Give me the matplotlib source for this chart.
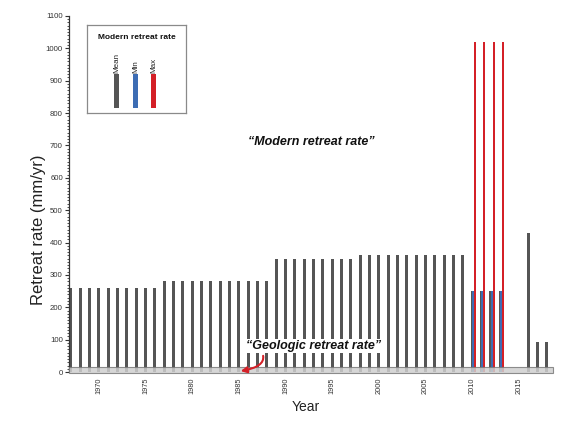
"""Retreat rate per year: modern (mean/min/max) against the geologic rate band."""

import matplotlib

matplotlib.use("Agg")
import matplotlib.pyplot as plt
from matplotlib.ticker import MultipleLocator
import numpy as np

plt.rcParams["font.family"] = ["Liberation Sans", "DejaVu Sans"]

# mean retreat rate per year (mm/yr)
YEARS = [
    1967, 1968, 1969, 1970, 1971, 1972, 1973, 1974, 1975, 1976,
    1977, 1978, 1979, 1980, 1981, 1982, 1983, 1984, 1985, 1986, 1987, 1988,
    1989, 1990, 1991, 1992, 1993, 1994, 1995, 1996, 1997,
    1998, 1999, 2000, 2001, 2002, 2003, 2004, 2005, 2006, 2007, 2008, 2009,
    2010, 2011, 2012, 2013,
    2016, 2017, 2018,
]
MEAN_RATE = [
    260, 260, 260, 260, 260, 260, 260, 260, 260, 260,
    280, 280, 280, 280, 280, 280, 280, 280, 280, 280, 280, 280,
    350, 350, 350, 350, 350, 350, 350, 350, 350,
    360, 360, 360, 360, 360, 360, 360, 360, 360, 360, 360, 360,
    250, 250, 250, 250,
    430, 93, 93,
]

# years with a min / max range
RANGE_YEARS = [2010, 2011, 2012, 2013]
MIN_RATE = [250, 250, 250, 250]
MAX_RATE = [1020, 1020, 1020, 1020]

# geologic retreat rate band (mm/yr)
GEOLOGIC_LOW, GEOLOGIC_HIGH = -4, 14

LEGEND_LABELS = ["Mean", "Min", "Max"]

GRAY = "#555555"
BLUE = "#3d6db4"
RED = "#d42027"


def main() -> None:
    fig = plt.figure(figsize=(5.8, 4.23), dpi=100)
    ax = fig.add_axes([68.5 / 580, 1 - 372 / 423, 484 / 580, 356 / 423])

    ax.bar(YEARS, MEAN_RATE, width=0.32, color=GRAY, zorder=2)
    ax.bar(np.array(RANGE_YEARS) + 0.1, MIN_RATE, width=0.26, color=BLUE, zorder=3)
    ax.bar(np.array(RANGE_YEARS) + 0.3, MAX_RATE, width=0.2, color=RED, zorder=3)

    # geologic rate band over the bar feet
    ax.axhspan(GEOLOGIC_LOW, GEOLOGIC_HIGH, facecolor="#cfcfcf", edgecolor="#7a7a7a",
               linewidth=0.8, alpha=0.85, zorder=4, clip_on=False)

    ax.set_xlim(1966.75, 2018.6)
    ax.set_ylim(0, 1100)

    ax.text(1992.8, 711, "\u201cModern retreat rate\u201d", ha="center", va="center",
            fontsize=9, fontweight="bold", fontstyle="italic", color="#111111")
    ax.text(1993.0, 80, "\u201cGeologic retreat rate\u201d", ha="center", va="center",
            fontsize=9, fontweight="bold", fontstyle="italic", color="#111111",
            zorder=6, bbox=dict(facecolor="white", edgecolor="none", pad=0.5))
    ax.annotate("", xy=(1985.2, 3), xytext=(1987.6, 50), zorder=6,
                arrowprops=dict(arrowstyle="-|>,head_length=0.35,head_width=0.18",
                                color=RED, lw=1.5, shrinkA=0, shrinkB=0,
                                connectionstyle="angle3,angleA=-80,angleB=10"))

    # axes styling
    for side in ("top", "right", "bottom"):
        ax.spines[side].set_visible(False)
    ax.spines["left"].set_color("#333333")
    ax.spines["left"].set_linewidth(0.9)

    ax.set_xticks(range(1970, 2016, 5))
    ax.tick_params(axis="x", length=0, pad=4, labelsize=5.3, labelrotation=90,
                   labelcolor="#333333")
    ax.yaxis.set_major_locator(MultipleLocator(100))
    ax.yaxis.set_minor_locator(MultipleLocator(10))
    ax.tick_params(axis="y", which="major", length=3, width=0.8, pad=1,
                   labelsize=5.6, labelcolor="#333333", color="#333333")
    ax.tick_params(axis="y", which="minor", length=1.6, width=0.6, color="#333333")

    ax.set_ylabel("Retreat rate (mm/yr)", fontsize=12, color="#222222")
    ax.yaxis.set_label_coords(-0.047, 0.40)
    ax.set_xlabel("Year", fontsize=10, color="#222222")
    ax.xaxis.set_label_coords(0.49, -0.078)

    # legend box
    lax = fig.add_axes([87 / 580, 1 - 113 / 423, 99 / 580, 88 / 423])
    lax.set_xlim(0, 1)
    lax.set_ylim(0, 1)
    lax.set_xticks([])
    lax.set_yticks([])
    for sp in lax.spines.values():
        sp.set_color("#8a8a8a")
        sp.set_linewidth(0.9)
    lax.text(0.5, 0.86, "Modern retreat rate", ha="center", va="center",
             fontsize=6, fontweight="bold", color="#111111")
    lx = [0.298, 0.49, 0.67]
    lax.bar(lx, [0.383] * 3, bottom=0.06, width=0.045,
            color=[GRAY, BLUE, RED])
    for x, lab in zip(lx, LEGEND_LABELS):
        lax.text(x + 0.005, 0.455, lab, rotation=90, ha="center", va="bottom",
                 fontsize=5.8, color="#222222")

    fig.savefig("out.png", dpi=100)


if __name__ == "__main__":
    main()
